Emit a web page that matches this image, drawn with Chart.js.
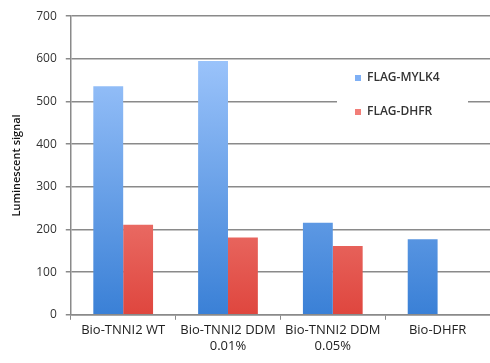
<!DOCTYPE html>
<html lang="en">
<head>
    <meta charset="UTF-8">
    <title>Luminescent signal</title>
    <script src="https://cdn.jsdelivr.net/npm/chart.js"></script>
    <style>
        body {
            margin: 0;
            padding: 0;
            background-color: #ffffff;
        }
        .chart-container {
            width: 490px;
            height: 363px;
        }
    </style>
</head>
<body>
<div class="chart-container">
    <canvas id="lumChart"></canvas>
</div>
<script>
    const categories = ['Bio-TNNI2 WT', ['Bio-TNNI2 DDM', '0.01%'], ['Bio-TNNI2 DDM', '0.05%'], 'Bio-DHFR'];
    const mylk4Values = [536, 595, 216, 177];
    const dhfrValues = [211, 181, 161, null];
    const yTicks = [0, 100, 200, 300, 400, 500, 600, 700];

    function barGradient(ctx, top, bottom) {
        const area = ctx.chart.chartArea;
        if (!area) return top;
        const g = ctx.chart.ctx.createLinearGradient(0, area.top + 40, 0, area.bottom);
        g.addColorStop(0, top);
        g.addColorStop(1, bottom);
        return g;
    }

    // legend drawn inside the plot on a white box, like the original
    const boxLegend = {
        id: 'boxLegend',
        afterDatasetsDraw(chart) {
            const c = chart.ctx;
            const swatches = ['#7fb0f5', '#f27e78'];
            c.save();
            c.fillStyle = '#ffffff';
            c.fillRect(337, 60, 131, 76);
            c.font = '600 12px "Open Sans"';
            c.textBaseline = 'middle';
            chart.data.datasets.forEach((ds, i) => {
                const y = 78 + i * 34;
                c.fillStyle = swatches[i];
                c.fillRect(355, y - 3, 6, 6);
                c.fillStyle = '#333333';
                c.fillText(ds.label, 367, y);
            });
            c.restore();
        }
    };

    const ctx = document.getElementById('lumChart').getContext('2d');
    new Chart(ctx, {
        type: 'bar',
        data: {
            labels: categories,
            datasets: [{
                label: 'FLAG-MYLK4',
                data: mylk4Values,
                backgroundColor: c => barGradient(c, '#9cc4fb', '#3a80d6'),
                categoryPercentage: 0.57,
                barPercentage: 1.0
            }, {
                label: 'FLAG-DHFR',
                data: dhfrValues,
                backgroundColor: c => barGradient(c, '#fbaaa5', '#df463e'),
                categoryPercentage: 0.57,
                barPercentage: 1.0
            }]
        },
        options: {
            responsive: true,
            maintainAspectRatio: false,
            animation: false,
            layout: {
                padding: { left: 10, right: 0, top: 6, bottom: 6 }
            },
            plugins: {
                legend: { display: false },
                tooltip: { enabled: false }
            },
            scales: {
                x: {
                    grid: {
                        offset: true,
                        drawOnChartArea: false,
                        drawTicks: true,
                        tickLength: 5,
                        color: '#8a8a8a'
                    },
                    border: { color: '#8a8a8a', width: 1.5 },
                    ticks: {
                        color: '#222222',
                        font: { family: 'Open Sans', size: 13 },
                        maxRotation: 0,
                        autoSkip: false,
                        padding: 3
                    }
                },
                y: {
                    min: 0,
                    max: 700,
                    afterBuildTicks: scale => {
                        scale.ticks = yTicks.map(v => ({ value: v }));
                    },
                    grid: {
                        color: '#8a8a8a',
                        lineWidth: 1.5,
                        tickLength: 5
                    },
                    border: { color: '#8a8a8a', width: 1.5 },
                    ticks: {
                        color: '#333333',
                        font: { family: 'Open Sans', size: 12 },
                        padding: 9
                    },
                    title: {
                        display: true,
                        text: 'Luminescent signal',
                        color: '#111111',
                        font: { family: 'Open Sans', size: 11, weight: '600' },
                        padding: { top: 0, bottom: 4 }
                    }
                }
            }
        },
        plugins: [boxLegend]
    });
</script>
</body>
</html>
